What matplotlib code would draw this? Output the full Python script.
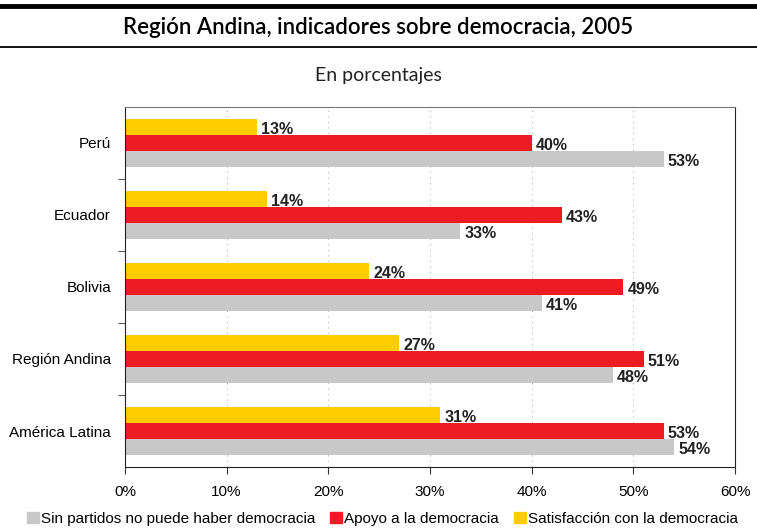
import numpy as np
from matplotlib import pyplot as plt
from matplotlib.lines import Line2D

### data
paises = ['Perú', 'Ecuador', 'Bolivia', 'Región Andina', 'América Latina']
satisfaccion = [13, 14, 24, 27, 31]
apoyo = [40, 43, 49, 51, 53]
sin_partidos = [53, 33, 41, 48, 54]
series_names = ['Sin partidos no puede haber democracia', 'Apoyo a la democracia',
                'Satisfacción con la democracia']
colores = ['#c8c8c8', '#ed1c24', '#ffcc00']

plt.rcParams['font.family'] = ['Liberation Sans', 'DejaVu Sans']

fig = plt.figure(figsize=(7.57, 5.28), dpi=100)
ax = fig.add_axes([0.165, 0.1155, 0.806, 0.682])

y = np.arange(len(paises))
h = 0.222
ax.barh(y - h, satisfaccion, height=h, color=colores[2], zorder=2)
ax.barh(y, apoyo, height=h, color=colores[1], zorder=2)
ax.barh(y + h, sin_partidos, height=h, color=colores[0], zorder=2)

### value labels
for vals, off in [(satisfaccion, -h), (apoyo, 0), (sin_partidos, h)]:
    for i, v in enumerate(vals):
        ax.text(v + 0.4, i + off + 0.03, '%d%%' % v, va='center', ha='left',
                fontsize=11.5, fontweight='bold', color='#222222', zorder=3)

ax.set_ylim(4.5, -0.5)
ax.set_xlim(0, 60)
ax.set_xticks(np.arange(0, 61, 10))
ax.set_xticklabels(['%d%%' % t for t in range(0, 61, 10)], fontsize=11)
ax.set_yticks(y)
ax.set_yticklabels(paises, fontsize=11)
ax.tick_params(axis='y', length=0, pad=10)
ax.set_yticks(np.arange(0.5, 4.5, 1), minor=True)
ax.tick_params(axis='y', which='minor', length=5, direction='out', color='#333333')
ax.tick_params(axis='x', length=5, direction='out', color='#333333', pad=8)
ax.xaxis.grid(True, linestyle=(0, (1, 4)), color='#bbbbbb', linewidth=0.8, zorder=0)
for s in ['left', 'right', 'bottom']:
    ax.spines[s].set_color('#222222')
ax.spines['top'].set_color('#777777')

### title block
fig.add_artist(Line2D([0, 1], [1 - 6/528, 1 - 6/528], color='black', linewidth=3.5))
fig.add_artist(Line2D([0, 1], [1 - 47/528, 1 - 47/528], color='black', linewidth=1.3))
fig.text(0.5, 1 - 28/528, 'Región Andina, indicadores sobre democracia, 2005',
         ha='center', va='center', fontsize=16, family='Lato', fontweight='semibold')
fig.text(0.5, 1 - 76/528, 'En porcentajes', ha='center', va='center', fontsize=14,
         family='Lato', color='#222222')

handles = [plt.Rectangle((0, 0), 1, 1, color=c) for c in colores]
fig.legend(handles, series_names, loc='lower center', bbox_to_anchor=(0.505, -0.022), ncol=3,
           frameon=False, fontsize=11, handlelength=0.8, handleheight=0.8,
           handletextpad=0.1, columnspacing=1.0)

plt.savefig('out.png')
